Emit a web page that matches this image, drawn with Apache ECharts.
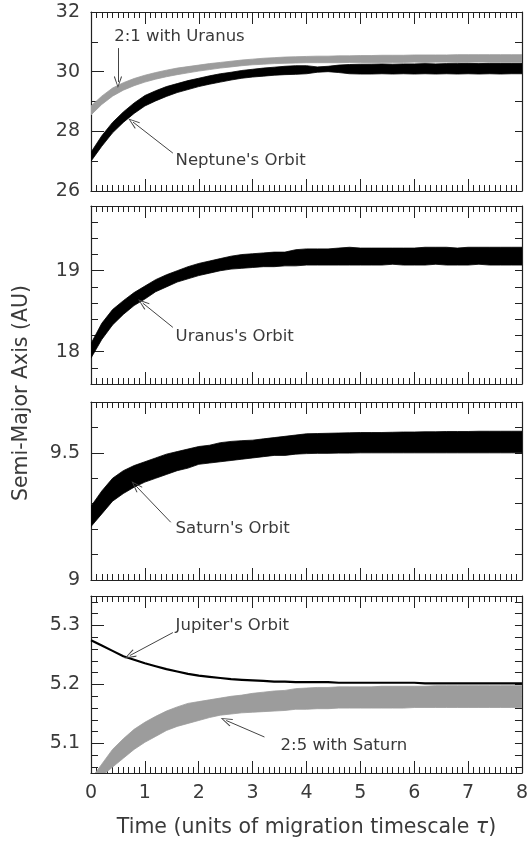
<!DOCTYPE html>
<html><head><meta charset="utf-8">
<script src="https://cdn.jsdelivr.net/npm/echarts@6/dist/echarts.min.js"></script>
<style>html,body{margin:0;padding:0;background:#fff}#c{width:531px;height:844px}</style>
</head><body><div id="c"></div>
<script>
// ---- data ----
const time = [0,0.2,0.4,0.6,0.8,1.0,1.2,1.4,1.6,1.8,2.0,2.2,2.4,2.6,2.8,3.0,3.2,3.4,3.6,3.8,4.0,4.2,4.4,4.6,4.8,5.0,5.2,5.4,5.6,5.8,6.0,6.2,6.4,6.6,6.8,7.0,7.2,7.4,7.6,7.8,8.0];

// Panel 1: Neptune (black band) and 2:1 with Uranus (gray band)
const neptuneLow  = [27.0,27.5,27.95,28.3,28.6,28.85,29.02,29.17,29.3,29.4,29.5,29.58,29.65,29.72,29.78,29.82,29.85,29.88,29.9,29.91,29.93,29.98,30.0,29.97,29.93,29.92,29.92,29.93,29.92,29.93,29.92,29.93,29.92,29.93,29.92,29.93,29.92,29.93,29.92,29.93,29.93];
const neptuneHigh = [27.3,27.85,28.3,28.65,28.95,29.2,29.36,29.5,29.6,29.7,29.78,29.86,29.93,29.98,30.04,30.08,30.12,30.15,30.18,30.2,30.2,30.16,30.18,30.22,30.24,30.25,30.25,30.26,30.25,30.26,30.26,30.27,30.26,30.27,30.27,30.28,30.27,30.28,30.28,30.28,30.28];
const res21Low    = [28.55,28.9,29.18,29.38,29.53,29.65,29.75,29.83,29.9,29.96,30.02,30.07,30.12,30.16,30.2,30.23,30.25,30.27,30.28,30.29,30.3,30.3,30.3,30.3,30.31,30.31,30.3,30.31,30.31,30.31,30.32,30.31,30.32,30.32,30.31,30.32,30.32,30.32,30.32,30.32,30.32];
const res21High   = [28.85,29.18,29.45,29.63,29.77,29.88,29.97,30.05,30.12,30.17,30.22,30.27,30.31,30.35,30.39,30.42,30.45,30.47,30.49,30.5,30.51,30.52,30.52,30.53,30.53,30.54,30.54,30.55,30.55,30.55,30.56,30.56,30.56,30.56,30.57,30.57,30.57,30.57,30.57,30.57,30.57];

// Panel 2: Uranus
const uranusLow  = [17.92,18.15,18.33,18.46,18.57,18.65,18.74,18.8,18.86,18.9,18.94,18.97,19.0,19.02,19.03,19.04,19.05,19.05,19.06,19.06,19.07,19.07,19.07,19.07,19.07,19.07,19.07,19.07,19.08,19.07,19.07,19.07,19.08,19.07,19.07,19.07,19.08,19.07,19.07,19.07,19.07];
const uranusHigh = [18.1,18.35,18.52,18.63,18.73,18.81,18.89,18.95,19.0,19.05,19.09,19.12,19.15,19.18,19.2,19.21,19.22,19.23,19.23,19.26,19.27,19.27,19.27,19.28,19.29,19.28,19.28,19.28,19.28,19.28,19.28,19.29,19.29,19.29,19.28,19.29,19.29,19.29,19.29,19.29,19.29];

// Panel 3: Saturn
const saturnLow  = [9.21,9.26,9.31,9.34,9.365,9.385,9.40,9.415,9.43,9.44,9.455,9.46,9.465,9.47,9.475,9.48,9.485,9.49,9.49,9.495,9.497,9.498,9.498,9.499,9.499,9.5,9.5,9.5,9.5,9.5,9.5,9.5,9.5,9.5,9.5,9.5,9.5,9.5,9.5,9.5,9.5];
const saturnHigh = [9.29,9.35,9.40,9.43,9.45,9.465,9.48,9.495,9.505,9.515,9.525,9.53,9.54,9.545,9.548,9.55,9.555,9.56,9.565,9.57,9.575,9.576,9.577,9.578,9.579,9.58,9.58,9.58,9.581,9.582,9.582,9.583,9.583,9.584,9.584,9.584,9.585,9.585,9.585,9.585,9.585];

// Panel 4: Jupiter (line) and 2:5 with Saturn (gray band)
const jupiter   = [5.275,5.266,5.257,5.248,5.242,5.236,5.231,5.226,5.222,5.218,5.215,5.213,5.211,5.209,5.208,5.207,5.206,5.205,5.205,5.204,5.204,5.204,5.204,5.203,5.203,5.203,5.203,5.203,5.203,5.203,5.203,5.202,5.202,5.202,5.202,5.202,5.202,5.202,5.202,5.202,5.202];
const res25Low  = [5.02,5.045,5.06,5.075,5.09,5.102,5.112,5.122,5.129,5.134,5.139,5.144,5.148,5.15,5.152,5.153,5.154,5.155,5.156,5.158,5.158,5.159,5.159,5.16,5.16,5.16,5.16,5.16,5.16,5.16,5.161,5.161,5.161,5.161,5.161,5.161,5.161,5.161,5.161,5.161,5.161];
const res25High = [5.04,5.065,5.09,5.108,5.124,5.136,5.146,5.155,5.162,5.168,5.171,5.174,5.177,5.18,5.182,5.185,5.187,5.189,5.19,5.193,5.194,5.195,5.195,5.196,5.196,5.196,5.196,5.197,5.197,5.197,5.197,5.197,5.198,5.198,5.198,5.198,5.198,5.198,5.198,5.198,5.198];

// Axis ranges and ticks
const xTickLabels = ['0','1','2','3','4','5','6','7','8'];
const yRanges = [[26,32],[17.6,19.8],[9,9.7],[5.05,5.35]];
const yMajor  = [[26,28,30,32],[18,19],[9,9.5],[5.1,5.2,5.3]];
const yMinor  = [[27,29,31],[17.6,17.8,18.2,18.4,18.6,18.8,19.2,19.4,19.6,19.8],[9.1,9.2,9.3,9.4,9.6,9.7],[5.06,5.08,5.12,5.14,5.16,5.18,5.22,5.24,5.26,5.28,5.32,5.34]];

// Annotations: [text, textX, textY, arrowFromX, arrowFromY, arrowToX, arrowToY]
const notes = [
  [["2:1 with Uranus",0.43,31.16,0.5,30.79,0.5,29.65],["Neptune's Orbit",1.57,27.0,1.52,27.27,0.78,28.31]],
  [["Uranus's Orbit",1.57,18.19,1.52,18.3,0.96,18.6]],
  [["Saturn's Orbit",1.57,9.203,1.48,9.227,0.83,9.371]],
  [["Jupiter's Orbit",1.57,5.299,1.52,5.288,0.72,5.249],["2:5 with Saturn",3.52,5.097,3.22,5.111,2.51,5.139]]
];

// ---- layout ----
const grids = [
  {left:91, width:431, top:12, height:179},
  {left:91, width:431, top:206, height:178},
  {left:91, width:431, top:402, height:178},
  {left:91, width:431, top:596, height:177}
];
const FONT = 'DejaVu Sans';
const INK = '#222';
const TXT = '#3a3a3a';
const chevron = 'path://M5,0 L10,10 L9,10.7 L5,2.2 L1,10.7 L0,10 Z';

const xAxis = [], yAxis = [], series = [];
grids.forEach((g, gi) => {
  ['bottom','top'].forEach(pos => {
    const isLabelAxis = (gi === 3 && pos === 'bottom');
    xAxis.push({
      type:'value', gridIndex:gi, position:pos, min:0, max:8, interval:1,
      axisLine:{show:true, onZero:false, lineStyle:{color:INK, width:1.2}},
      axisTick:{show:true, inside:true, length:12, lineStyle:{color:INK, width:1}},
      minorTick:{show:true, splitNumber:10, length:6, lineStyle:{color:INK, width:1}},
      splitLine:{show:false},
      axisLabel:{show:isLabelAxis, margin:11, fontFamily:FONT, fontSize:19, color:TXT,
        formatter:(v)=> xTickLabels[Math.round(v)] },
      name: isLabelAxis ? 'Time (units of migration timescale {i|τ})' : '',
      nameLocation:'middle', nameGap:44,
      nameTextStyle:{fontFamily:FONT, fontSize:20.5, color:TXT, rich:{i:{fontFamily:FONT, fontSize:20.5, fontStyle:'italic', color:TXT}}}
    });
  });
  const [mn, mx] = yRanges[gi];
  yAxis.push({type:'value', gridIndex:gi, position:'left', min:mn, max:mx,
    axisLine:{show:true, onZero:false, lineStyle:{color:INK, width:1.2}},
    axisTick:{show:true, inside:true, length:7, customValues:yMinor[gi], lineStyle:{color:INK}},
    axisLabel:{show:false}, splitLine:{show:false}});
  yAxis.push({type:'value', gridIndex:gi, position:'left', min:mn, max:mx,
    axisLine:{show:false},
    axisTick:{show:true, inside:true, length:13, customValues:yMajor[gi], lineStyle:{color:INK}},
    axisLabel:{show:true, customValues:yMajor[gi], margin:11, fontFamily:FONT, fontSize:19, color:TXT},
    splitLine:{show:false}});
  yAxis.push({type:'value', gridIndex:gi, position:'right', min:mn, max:mx,
    axisLine:{show:true, onZero:false, lineStyle:{color:INK, width:1.2}},
    axisTick:{show:true, inside:true, length:7, customValues:yMajor[gi].concat(yMinor[gi]), lineStyle:{color:INK}},
    axisLabel:{show:false}, splitLine:{show:false}});
});

// filled band between a low and a high envelope, drawn through the axes' scales
function band(low, high, color, gi, z) {
  series.push({type:'custom', xAxisIndex:2*gi, yAxisIndex:3*gi, z:z, silent:true,
    data:[[time[0], low[0]]],
    renderItem:(params, api) => {
      const top = time.map((t,i)=>api.coord([t, high[i]]));
      const bot = time.map((t,i)=>api.coord([t, low[i]])).reverse();
      const cs = params.coordSys;
      return {type:'group', children:[{type:'polygon', shape:{points: top.concat(bot)},
          style:{fill:color, stroke:color, lineWidth:0.8}}],
        clipPath:{type:'rect', shape:{x:cs.x, y:cs.y, width:cs.width, height:cs.height}}};
    }});
}
band(res21Low, res21High, '#9c9c9c', 0, 2);
band(neptuneLow, neptuneHigh, '#000000', 0, 3);
band(uranusLow, uranusHigh, '#000000', 1, 3);
band(saturnLow, saturnHigh, '#000000', 2, 3);
band(res25Low, res25High, '#9c9c9c', 3, 2);
series.push({type:'line', name:'jupiter', xAxisIndex:6, yAxisIndex:9,
  data: time.map((t,i)=>[t, jupiter[i]]), symbol:'none', z:3, silent:true,
  lineStyle:{color:'#000', width:2.2}});

notes.forEach((list, gi) => {
  series.push({type:'scatter', xAxisIndex:2*gi, yAxisIndex:3*gi, data:[], silent:true, z:5,
    markPoint:{silent:true, symbol:'circle', symbolSize:0, animation:false,
      label:{show:true, position:'right', distance:0, fontFamily:FONT, fontSize:16.5, color:TXT,
        formatter:(p)=>p.name},
      data: list.map(n=>({name:n[0], coord:[n[1], n[2]]}))},
    markLine:{silent:true, animation:false, symbol:['none', chevron], symbolSize:[8,12],
      lineStyle:{color:'#444', width:1, type:'solid'}, label:{show:false},
      data: list.map(n=>[{coord:[n[3], n[4]]},{coord:[n[5], n[6]]}])}
  });
});

const chart = echarts.init(document.getElementById('c'), null, {renderer:'canvas'});
chart.setOption({
  animation:false,
  backgroundColor:'#fff',
  grid: grids,
  xAxis: xAxis,
  yAxis: yAxis,
  series: series,
  graphic:[{type:'text', rotation:Math.PI/2,
    style:{text:'Semi-Major Axis (AU)', fontFamily:FONT, fontSize:20.5, fill:TXT, textAlign:'center', textVerticalAlign:'middle'},
    x:22, y:393}]
});
</script></body></html>
